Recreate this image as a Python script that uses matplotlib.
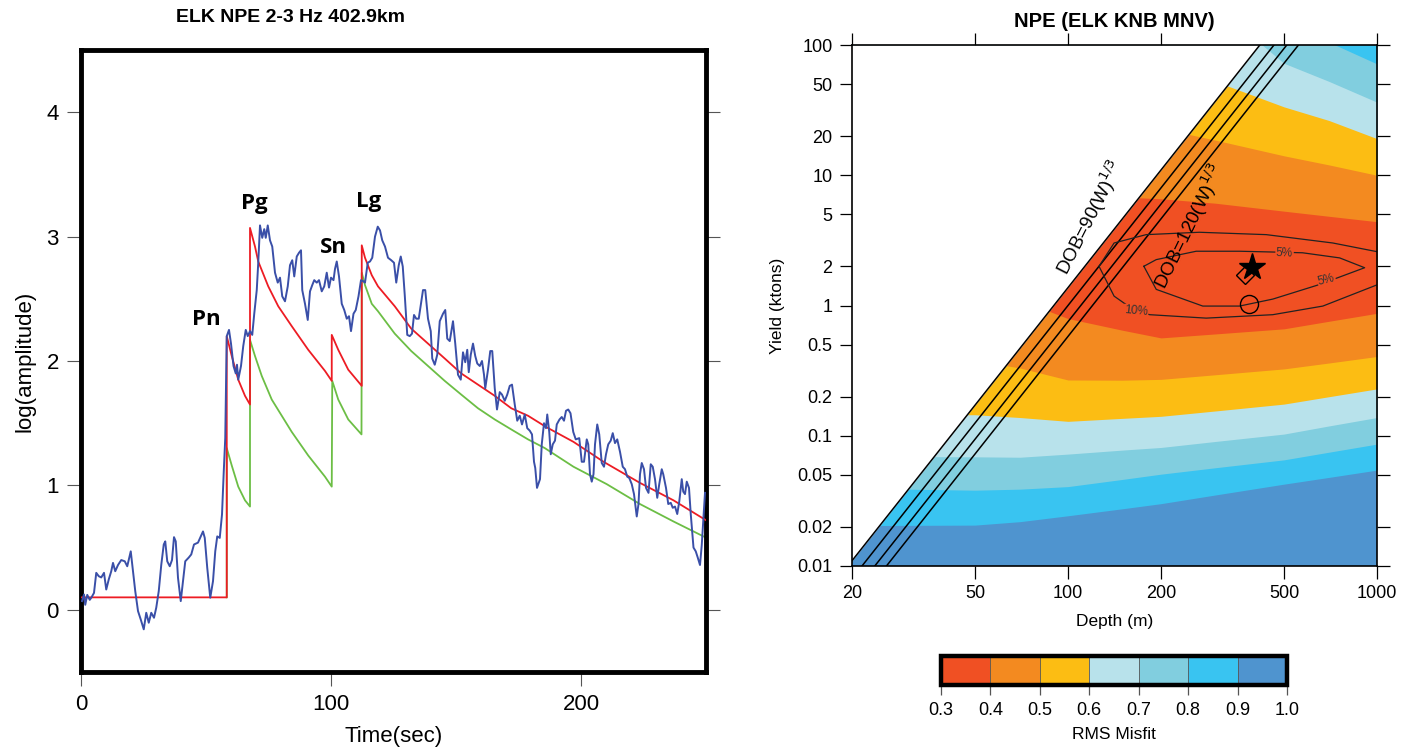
import matplotlib
matplotlib.use('Agg')
import matplotlib.pyplot as plt
import matplotlib.ticker as mticker
from matplotlib.colors import ListedColormap, BoundaryNorm
import matplotlib.cm as cm
import numpy as np

plt.rcParams['font.family'] = ['Liberation Sans', 'DejaVu Sans']

# ---------------- left panel: envelope fit ----------------
obs_time = [0.4, 1.2, 1.7, 2.5, 3.5, 4.2, 5.2, 6.1, 7.1, 8.1, 9.2, 10.1, 11.1, 12.1, 12.8, 13.7, 14.8, 16.1, 17.5, 18.5,
            19.9, 20.8, 21.7, 22.8, 23.9, 25.1, 26.1, 27.1, 28.1, 29.2, 30.1, 31.1, 32.1, 33.1, 33.7, 34.5, 35.5, 36.4, 37.2, 37.9,
            38.8, 39.9, 40.8, 41.7, 43.1, 44.1, 45.2, 46.8, 47.9, 48.8, 49.5, 50.5, 51.7, 52.8, 53.7, 54.5, 55.5, 56.4, 57.1, 57.7,
            58.3, 59.2, 60.0, 61.0, 61.9, 62.4, 62.9, 64.0, 64.9, 65.9, 66.7, 67.6, 68.5, 69.3, 70.3, 70.9, 71.6, 72.5, 73.3, 73.9,
            74.7, 75.6, 76.5, 77.6, 78.7, 79.6, 80.5, 81.6, 82.7, 83.6, 84.5, 85.3, 86.3, 87.2, 88.0, 88.5, 89.6, 90.7, 91.6, 92.5,
            93.3, 94.3, 95.2, 96.3, 97.3, 98.3, 99.2, 100.0, 101.0, 101.6, 102.3, 103.2, 104.3, 105.3, 106.3, 107.2, 108.0, 109.0,
            109.9, 111.0, 112.0, 113.0, 113.6, 114.7, 115.6, 116.5, 117.6, 118.7, 119.6, 120.5, 121.6,
            122.8, 124.1, 125.2, 126.1, 127.1, 127.9, 128.7, 129.5, 130.5, 131.5, 132.4, 133.2, 134.1, 135.1, 135.9, 136.8, 137.7,
            138.8, 139.9, 140.5, 141.5, 142.5, 143.5, 144.8, 145.7, 146.5, 147.5, 148.8, 149.7, 150.8, 151.9, 152.8, 153.7, 154.5,
            155.1, 155.9, 156.8, 157.7, 158.5, 159.5, 160.4, 161.2, 161.7, 162.8, 163.7, 164.5, 165.5, 166.4, 167.5, 168.4, 169.5,
            170.5, 171.5, 172.4, 173.5, 174.5, 175.5, 176.4, 177.5, 178.5, 179.5, 180.4, 181.2, 181.7, 182.4, 183.6,
            184.3, 185.2, 186.0, 186.5, 187.3, 187.9, 188.7, 189.6, 190.3, 191.4, 192.3, 193.2, 194.0, 194.9, 195.8, 196.9, 197.9,
            199.3, 200.3, 201.2, 202.3, 202.9, 203.6, 204.3, 205.0, 205.6, 206.5, 207.3, 208.3, 209.2, 210.0, 210.9, 211.9, 212.7,
            213.6, 214.5, 215.6, 216.7, 217.6, 218.5, 219.3, 220.3, 221.2, 222.3, 223.0, 223.6, 224.3, 225.2, 226.0, 227.0, 227.9,
            228.7, 229.6, 230.5, 231.3, 232.3, 232.9, 234.0, 234.9, 235.9, 236.7, 237.6, 238.5, 239.3, 240.3, 240.9, 241.6, 242.3,
            243.2, 243.9, 245.0, 245.9, 246.7, 247.6, 248.3, 249.0, 249.6]
obs_amp = [0.07, 0.123, 0.04, 0.12, 0.08, 0.10, 0.136, 0.297, 0.27, 0.26, 0.297, 0.163, 0.244, 0.31, 0.377, 0.31, 0.36, 0.40, 0.39, 0.35,
           0.47, 0.31, 0.15, -0.01, -0.078, -0.157, -0.024, -0.104, -0.024, -0.064, 0.017, 0.15, 0.36, 0.525, 0.55, 0.39, 0.35, 0.40, 0.584, 0.55,
           0.257, 0.07, 0.23, 0.39, 0.42, 0.445, 0.525, 0.54, 0.59, 0.63, 0.578, 0.337, 0.097, 0.23, 0.47, 0.59, 0.578, 0.766, 1.11, 1.38,
           2.20, 2.25, 2.14, 1.96, 1.90, 1.97, 1.85, 1.96, 2.12, 2.25, 2.20, 2.24, 2.21, 2.38, 2.57, 2.79, 3.09, 2.99, 3.06, 2.99,
           3.09, 2.97, 2.92, 2.71, 2.63, 2.67, 2.52, 2.48, 2.60, 2.77, 2.81, 2.68, 2.84, 2.87, 2.89, 2.57, 2.46, 2.33, 2.56, 2.61,
           2.65, 2.63, 2.65, 2.56, 2.60, 2.71, 2.59, 2.67, 2.65, 2.74, 2.80, 2.68, 2.46, 2.41, 2.34, 2.36, 2.24, 2.38,
           2.41, 2.52, 2.65, 2.64, 2.63, 2.79, 2.80, 2.83, 3.00, 3.08, 3.05, 2.97, 2.92,
           2.83, 2.81, 2.79, 2.63, 2.77, 2.84, 2.76, 2.53, 2.21, 2.20, 2.22, 2.37, 2.34, 2.34, 2.45, 2.57, 2.57,
           2.34, 2.24, 2.02, 1.97, 2.05, 2.32, 2.38, 2.41, 2.18, 2.16, 2.32, 2.14, 1.89, 1.85, 2.07, 1.99, 2.09,
           1.91, 2.05, 2.14, 2.04, 1.98, 1.96, 2.00, 1.89, 1.78, 1.93, 2.08, 2.08, 1.78, 1.61, 1.75, 1.73, 1.68,
           1.73, 1.80, 1.81, 1.65, 1.52, 1.56, 1.49, 1.57, 1.46, 1.44, 1.41, 1.19, 1.14, 0.98, 1.05,
           1.33, 1.50, 1.46, 1.57, 1.43, 1.25, 1.33, 1.36, 1.49, 1.53, 1.55, 1.52, 1.60, 1.61, 1.58, 1.43, 1.37,
           1.38, 1.19, 1.19, 1.37, 1.33, 1.09, 1.03, 1.09, 1.33, 1.49, 1.41, 1.18, 1.15, 1.25, 1.33, 1.36, 1.42,
           1.34, 1.37, 1.27, 1.15, 1.13, 1.07, 1.06, 1.01, 0.93, 0.75, 0.85, 1.09, 1.18, 1.13, 0.98, 0.94, 1.17,
           1.15, 1.05, 0.90, 1.01, 1.13, 1.09, 0.98, 0.85, 0.86, 0.82, 0.83, 0.77, 0.87, 1.05, 0.95, 0.93, 1.03,
           0.98, 0.77, 0.50, 0.47, 0.42, 0.36, 0.52, 0.74, 0.94]

model_time = [0, 58.3, 58.3, 60.3, 62.9, 65.6, 67.6, 67.6, 69.6, 70.9, 74.9, 78.9, 84.3, 90.9, 97.6, 100.3,
              100.3, 102.9, 106.9, 112.3, 112.3, 113.6, 116.3, 118.8, 125.5, 132.1, 138.8, 145.5, 152.1, 158.8,
              165.5, 172.1, 178.8, 186.0, 197.0, 209.0, 223.6, 237.0, 250]
model_amp = [0.1, 0.1, 2.20, 2.04, 1.85, 1.72, 1.65, 3.07, 2.92, 2.80, 2.60, 2.44, 2.28, 2.09, 1.92, 1.84,
             2.21, 2.09, 1.93, 1.80, 2.93, 2.83, 2.69, 2.60, 2.44, 2.26, 2.14, 2.02, 1.90, 1.81,
             1.72, 1.62, 1.56, 1.47, 1.35, 1.19, 1.02, 0.88, 0.72]

alt_time = [58.3, 58.3, 60.3, 62.9, 65.6, 67.6, 67.6, 69.6, 72.3, 76.3, 80.3, 84.3, 90.9, 97.6, 100.3,
            100.5, 102.9, 106.9, 112.2, 112.3, 113.6, 116.3, 118.8, 125.5, 132.1, 138.8, 145.5, 152.1, 158.8,
            165.5, 172.1, 178.8, 185.5, 197.0, 210.3, 223.6, 237.0, 250]
alt_amp = [0.1, 1.30, 1.16, 0.99, 0.88, 0.83, 2.17, 2.04, 1.88, 1.69, 1.56, 1.43, 1.24, 1.07, 0.99,
           1.84, 1.69, 1.53, 1.41, 2.71, 2.61, 2.46, 2.40, 2.22, 2.08, 1.96, 1.84, 1.73, 1.62,
           1.53, 1.45, 1.37, 1.30, 1.15, 1.01, 0.85, 0.71, 0.58]

phase_names = ['Pn', 'Pg', 'Sn', 'Lg']
phase_time = [50.3, 69.3, 100.9, 115.2]
phase_amp = [2.33, 3.27, 2.91, 3.28]

# ---------------- right panel: misfit grid search ----------------
depth = [20, 30, 50, 70, 100, 150, 200, 300, 500, 700, 1000]
misfit_levels = [0.3, 0.4, 0.5, 0.6, 0.7, 0.8, 0.9, 1.0]
misfit_colors = ['#F05023', '#F38A20', '#FCBD13', '#B8E2EB', '#81CEDF', '#39C4F1', '#4F94CF']
# yield (kt) of each misfit level boundary, below and above the minimum
lower_09 = [0.0204, 0.0205, 0.0206, 0.0219, 0.0243, 0.0275, 0.0301, 0.0351, 0.0425, 0.0479, 0.0545]
lower_08 = [0.0389, 0.0389, 0.0382, 0.0389, 0.0407, 0.0462, 0.0507, 0.0568, 0.0653, 0.0748, 0.0863]
lower_07 = [0.0692, 0.0692, 0.0689, 0.0684, 0.0723, 0.0776, 0.0813, 0.0904, 0.103, 0.119, 0.138]
lower_06 = [0.145, 0.145, 0.145, 0.138, 0.129, 0.136, 0.141, 0.155, 0.175, 0.1995, 0.229]
lower_05 = [0.501, 0.447, 0.380, 0.331, 0.268, 0.267, 0.271, 0.294, 0.326, 0.362, 0.406]
lower_04 = [2.0, 1.78, 1.41, 1.10, 0.794, 0.646, 0.564, 0.605, 0.662, 0.757, 0.871]
upper_04 = [8.9, 8.5, 7.9, 7.6, 7.2, 6.8, 6.6, 6.1, 5.3, 4.84, 4.4]
upper_05 = [31.6, 31.6, 31.6, 30.0, 28.0, 26.3, 22.9, 18.6, 14.1, 12.0, 10.0]
upper_06 = [79, 79, 79, 79, 79, 79, 79, 52.5, 33.5, 26.3, 19.1]
upper_07 = [200, 200, 200, 200, 200, 200, 200, 200, 72.4, 52.5, 36.4]
upper_08 = [200, 200, 200, 200, 200, 200, 200, 200, 200, 105, 71.6]
upper_09 = [200, 200, 200, 200, 200, 200, 200, 200, 200, 200, 200]

dob_scale = [90, 100, 110, 120]
depth_ticks = [20, 50, 100, 200, 500, 1000]
yield_ticks = [0.01, 0.02, 0.05, 0.1, 0.2, 0.5, 1, 2, 5, 10, 20, 50, 100]

c5_depth = [176, 193, 273, 359, 460, 652, 912, 757, 574, 472, 359, 260, 193, 176]
c5_yield = [2.0, 1.33, 0.99, 0.99, 1.12, 1.45, 1.95, 2.32, 2.54, 2.57, 2.61, 2.61, 2.25, 2.0]
c10_depth = [1000, 719, 438, 266, 179, 141, 126, 141, 166, 184, 280, 460, 668, 1000]
c10_yield = [2.59, 3.02, 3.50, 3.65, 3.50, 3.02, 2.0, 1.18, 0.90, 0.85, 0.80, 0.85, 0.99, 1.44]

star_pt = (393, 1.96)
diamond_pt = (375, 1.70)
circle_pt = (384, 1.035)

fig = plt.figure(figsize=(14.13, 7.54), dpi=100)
W, H = 1413.0, 754.0

# ---- left
ax1 = fig.add_axes([81 / W, 1 - 672 / H, 625 / W, 622 / H])
ax1.plot(alt_time, alt_amp, color='#6CBE45', lw=1.3, zorder=2)
ax1.plot(model_time, model_amp, color='#ED1C24', lw=1.3, zorder=3)
ax1.plot(obs_time, obs_amp, color='#3A4FA8', lw=1.4, zorder=4)
for name, t, a in zip(phase_names, phase_time, phase_amp):
    ax1.text(t, a, name, fontsize=16, fontweight='bold', family=['Open Sans', 'DejaVu Sans'],
             ha='center', va='center')
ax1.set_xlim(0, 250)
ax1.set_ylim(-0.5, 4.5)
ax1.set_xticks([0, 100, 200])
ax1.set_yticks([0, 1, 2, 3, 4])
ax1.tick_params(direction='out', length=10, width=0.8, color='#555555', labelsize=16,
                right=True, top=False, pad=6)
for s in ax1.spines.values():
    s.set_linewidth(3.5)
ax1.set_xlabel('Time(sec)', fontsize=16, labelpad=8)
ax1.set_ylabel('log(amplitude)', fontsize=16, labelpad=8)
fig.text(290 / W, 1 - 18 / H, 'ELK NPE 2-3 Hz 402.9km', fontsize=14, fontweight='bold',
         ha='center', va='center')

# ---- right
ax2 = fig.add_axes([852 / W, 1 - 566 / H, 525 / W, 521 / H])
ax2.set_xscale('log')
ax2.set_yscale('log')
ax2.set_facecolor(misfit_colors[6])
lowers = [lower_09, lower_08, lower_07, lower_06, lower_05, lower_04]
uppers = [upper_09, upper_08, upper_07, upper_06, upper_05, upper_04]
for i, (lo, up) in enumerate(zip(lowers, uppers)):
    ax2.fill_between(depth, lo, up, color=misfit_colors[5 - i], lw=0, zorder=1)

# region shallower than DOB = 90 W^(1/3) is left blank
y_end = np.array([yield_ticks[0], yield_ticks[-1]])
ax2.fill_between(dob_scale[0] * y_end ** (1 / 3), y_end, yield_ticks[-1], color='white', lw=0, zorder=2)
for c in dob_scale:
    ax2.plot(c * y_end ** (1 / 3), y_end, color='black', lw=1.1, zorder=3)

ax2.plot(c10_depth, c10_yield, color='#222222', lw=0.9, zorder=3)
ax2.plot(c5_depth, c5_yield, color='#222222', lw=0.9, zorder=3)
lab = dict(fontsize=8.5, color='#333333', ha='center', va='center', zorder=4,
           bbox=dict(facecolor=misfit_colors[0], edgecolor='none', pad=0.5))
ax2.text(166, 0.90, '10%', rotation=-5, **lab)
ax2.text(502, 2.50, '5%', rotation=-2, **lab)
ax2.text(686, 1.58, '5%', rotation=14, **lab)

ax2.plot(*diamond_pt, marker='D', ms=9, mfc='none', mec='black', mew=1.0, zorder=5)
ax2.plot(*star_pt, marker='*', ms=20, color='black', zorder=6)
ax2.plot(*circle_pt, marker='o', ms=13, mfc='none', mec='black', mew=1.0, zorder=5)

ax2.text(118, 4.7, r'DOB=90(W)$^{1/3}$', rotation=63, fontsize=13.5, ha='center', va='center',
         rotation_mode='anchor', zorder=5)
ax2.text(247, 4.0, r'DOB=120(W)$^{1/3}$', rotation=64, fontsize=13.5, ha='center', va='center',
         rotation_mode='anchor', zorder=5)

ax2.set_xlim(depth_ticks[0], depth_ticks[-1])
ax2.set_ylim(yield_ticks[0], yield_ticks[-1])
ax2.xaxis.set_major_locator(mticker.FixedLocator(depth_ticks))
ax2.yaxis.set_major_locator(mticker.FixedLocator(yield_ticks))
fmt = mticker.FuncFormatter(lambda v, p: f'{v:g}')
ax2.xaxis.set_major_formatter(fmt)
ax2.yaxis.set_major_formatter(fmt)
ax2.xaxis.set_minor_locator(mticker.NullLocator())
ax2.yaxis.set_minor_locator(mticker.NullLocator())
ax2.tick_params(direction='out', length=9, width=0.9, labelsize=13, top=True, right=True, pad=5)
for s in ax2.spines.values():
    s.set_linewidth(1.2)
    s.set_zorder(7)
ax2.set_xlabel('Depth (m)', fontsize=12.5, labelpad=8)
ax2.set_ylabel('Yield (ktons)', fontsize=12.5, labelpad=9)
ax2.set_title('NPE (ELK KNB MNV)', fontsize=14.5, fontweight='bold', pad=13)

# ---- colorbar
cax = fig.add_axes([941 / W, 1 - 685 / H, 346 / W, 29 / H])
cmap = ListedColormap(misfit_colors)
norm = BoundaryNorm(misfit_levels, cmap.N)
cb = fig.colorbar(cm.ScalarMappable(norm=norm, cmap=cmap), cax=cax, orientation='horizontal',
                  ticks=misfit_levels, drawedges=True)
cb.outline.set_linewidth(3.2)
cb.dividers.set_color('#555555')
cb.dividers.set_linewidth(0.6)
cb.ax.xaxis.set_major_formatter(mticker.FormatStrFormatter('%.1f'))
cb.ax.tick_params(length=7, width=0.9, color='#555555', labelsize=13, pad=5)
cb.set_label('RMS Misfit', fontsize=12.5, labelpad=6)

fig.savefig('out.png', dpi=100)
